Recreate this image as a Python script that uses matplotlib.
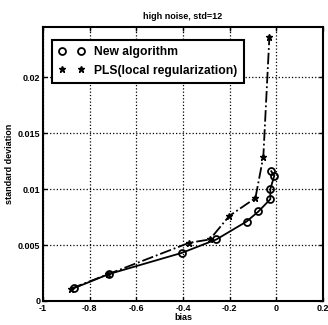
import matplotlib.pyplot as plt
from matplotlib.lines import Line2D

plt.rcParams['font.family'] = ['Liberation Sans', 'DejaVu Sans']
plt.rcParams['font.weight'] = 'bold'

# New algorithm (circles, solid line)
new_bias = [-0.865, -0.718, -0.405, -0.257, -0.128, -0.077, -0.026, -0.026, -0.009, -0.022]
new_std = [0.00116, 0.0024, 0.0043, 0.0055, 0.0071, 0.0080, 0.0091, 0.0100, 0.0112, 0.0116]

# PLS with local regularization (stars, dash-dot line)
pls_bias = [-0.88, -0.72, -0.374, -0.285, -0.202, -0.09, -0.056, -0.03]
pls_std = [0.0011, 0.0024, 0.0052, 0.0055, 0.0076, 0.0092, 0.0129, 0.0236]

xticks = [-1, -0.8, -0.6, -0.4, -0.2, 0, 0.2]
xtick_labels = ['-1', '-0.8', '-0.6', '-0.4', '-0.2', '0', '0.2']
yticks = [0, 0.005, 0.01, 0.015, 0.02]
ytick_labels = ['0', '0.005', '0.01', '0.015', '0.02']

fig = plt.figure(figsize=(3.28, 3.25), dpi=100)
ax = fig.add_axes([0.131, 0.074, 0.854, 0.843])

ax.plot(new_bias, new_std, 'k-', lw=1.3, marker='o', ms=5, mfc='none', mec='k', mew=1.3)
ax.plot(pls_bias, pls_std, 'k-.', lw=1.3, marker='*', ms=5, mfc='k', mec='k')

ax.set_xlim(-1, 0.2)
ax.set_ylim(0, 0.0245)
ax.set_xticks(xticks)
ax.set_xticklabels(xtick_labels)
ax.set_yticks(yticks)
ax.set_yticklabels(ytick_labels)
ax.tick_params(direction='in', length=3, width=1, labelsize=6.5, pad=2,
               top=True, right=True)
ax.grid(True, color='k', linestyle=':', linewidth=0.9)
for sp in ax.spines.values():
    sp.set_linewidth(1.5)

ax.set_title('high noise, std=12', fontsize=6.5, fontweight='bold', pad=6)
ax.set_xlabel('bias', fontsize=6.5, fontweight='bold', labelpad=0)
ax.set_ylabel('standard deviation', fontsize=6.5, fontweight='bold', labelpad=3)

handles = [
    Line2D([], [], linestyle='none', marker='o', ms=5, mfc='none', mec='k', mew=1.3),
    Line2D([], [], linestyle='none', marker='*', ms=5, mfc='k', mec='k'),
]
leg = ax.legend(handles, ['New algorithm', 'PLS(local regularization)'],
                loc='upper left', bbox_to_anchor=(0.032, 0.953), numpoints=2,
                fontsize=8.7, frameon=True, fancybox=False, borderpad=0.5,
                handlelength=2.2, handletextpad=0.8, labelspacing=0.55,
                borderaxespad=0)
leg.get_frame().set_edgecolor('k')
leg.get_frame().set_linewidth(1.5)
leg.get_frame().set_alpha(1)
for t in leg.get_texts():
    t.set_fontweight('bold')

fig.savefig('out.png', dpi=100)
